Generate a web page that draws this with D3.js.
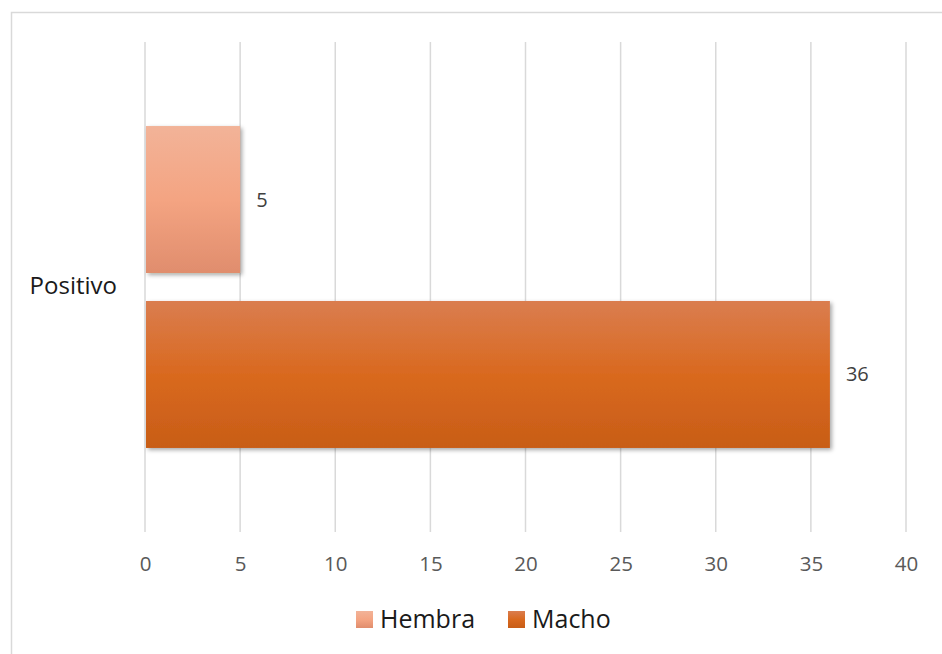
<!DOCTYPE html>
<html>
<head>
<meta charset="utf-8">
<script src="https://cdn.jsdelivr.net/npm/d3@7/dist/d3.min.js"></script>
<style>
  html, body { margin: 0; padding: 0; background: #fff; }
  svg { display: block; }
</style>
</head>
<body>
<svg id="chart" width="942" height="654"></svg>
<script>
const categories = ["Positivo"];
const seriesNames = ["Hembra", "Macho"];
const hembraValues = [5];
const machoValues = [36];
const xTicks = [0, 5, 10, 15, 20, 25, 30, 35, 40];

const seriesValues = { Hembra: hembraValues, Macho: machoValues };
const gradStops = {
  Hembra: ["#f2b398", "#f4a482", "#e08d6d"],
  Macho: ["#da7d4f", "#d9691f", "#c85d17"]
};

const svg = d3.select("#chart");
const W = 942, H = 654;
const plot = { left: 145, right: 906, top: 42, bottom: 532 };

const defs = svg.append("defs");
seriesNames.forEach((s, i) => {
  const g = defs.append("linearGradient").attr("id", "grad" + i)
    .attr("x1", 0).attr("y1", 0).attr("x2", 0).attr("y2", 1);
  g.append("stop").attr("offset", "0%").attr("stop-color", gradStops[s][0]);
  g.append("stop").attr("offset", "50%").attr("stop-color", gradStops[s][1]);
  g.append("stop").attr("offset", "100%").attr("stop-color", gradStops[s][2]);
});
const f = defs.append("filter").attr("id", "shadow")
  .attr("x", "-10%").attr("y", "-10%").attr("width", "130%").attr("height", "130%");
f.append("feDropShadow").attr("dx", 2).attr("dy", 2).attr("stdDeviation", 2)
  .attr("flood-color", "#000").attr("flood-opacity", 0.35);

// border
svg.append("rect").attr("x", 11.5).attr("y", 12.5)
  .attr("width", W + 20).attr("height", H + 20)
  .attr("fill", "none").attr("stroke", "#d9d9d9").attr("stroke-width", 1.5);

const x = d3.scaleLinear().domain([0, 40]).range([plot.left, plot.right]);
const y0 = d3.scaleBand().domain(categories).range([plot.top, plot.bottom]).padding(0.207);
const y1 = d3.scaleBand().domain(seriesNames).range([0, y0.bandwidth()]).paddingInner(0.16).paddingOuter(0);

// gridlines
svg.append("g").selectAll("line").data(xTicks).join("line")
  .attr("x1", d => x(d)).attr("x2", d => x(d))
  .attr("y1", plot.top).attr("y2", plot.bottom)
  .attr("stroke", "#d9d9d9").attr("stroke-width", 1.5);

// x axis
const xAxis = d3.axisBottom(x).tickValues(xTicks).tickSize(0).tickPadding(0);
const ax = svg.append("g").attr("transform", `translate(0,${plot.bottom + 39})`).call(xAxis);
ax.select(".domain").remove();
ax.selectAll("text").attr("font-family", "'Open Sans', sans-serif")
  .attr("font-size", 20.5).attr("fill", "#595959").attr("dy", 0);

// category label
svg.append("g").selectAll("text").data(categories).join("text")
  .attr("x", 117).attr("y", d => y0(d) + y0.bandwidth() / 2 + 7)
  .attr("text-anchor", "end")
  .attr("font-family", "'Open Sans', sans-serif").attr("font-size", 24)
  .attr("fill", "#1a1a1a").text(d => d);

// bars
categories.forEach((c, ci) => {
  const g = svg.append("g").attr("transform", `translate(0,${y0(c)})`);
  seriesNames.forEach((s, si) => {
    const v = seriesValues[s][ci];
    g.append("rect")
      .attr("x", x(0) + 1).attr("y", y1(s))
      .attr("width", x(v) - x(0) - 1).attr("height", y1.bandwidth())
      .attr("fill", `url(#grad${si})`).attr("filter", "url(#shadow)");
    g.append("text")
      .attr("x", x(v) + 16).attr("y", y1(s) + y1.bandwidth() / 2 + 7)
      .attr("font-family", "'Open Sans', sans-serif").attr("font-size", 20)
      .attr("fill", "#404040").text(v);
  });
});

// legend
const legendX = [356, 508];
const lg = svg.append("g");
seriesNames.forEach((s, i) => {
  lg.append("rect").attr("x", legendX[i]).attr("y", 611)
    .attr("width", 17).attr("height", 17).attr("fill", `url(#grad${i})`);
  lg.append("text").attr("x", legendX[i] + 24).attr("y", 628)
    .attr("font-family", "'Open Sans', sans-serif").attr("font-size", 25)
    .attr("fill", "#1a1a1a").text(s);
});
</script>
</body>
</html>
